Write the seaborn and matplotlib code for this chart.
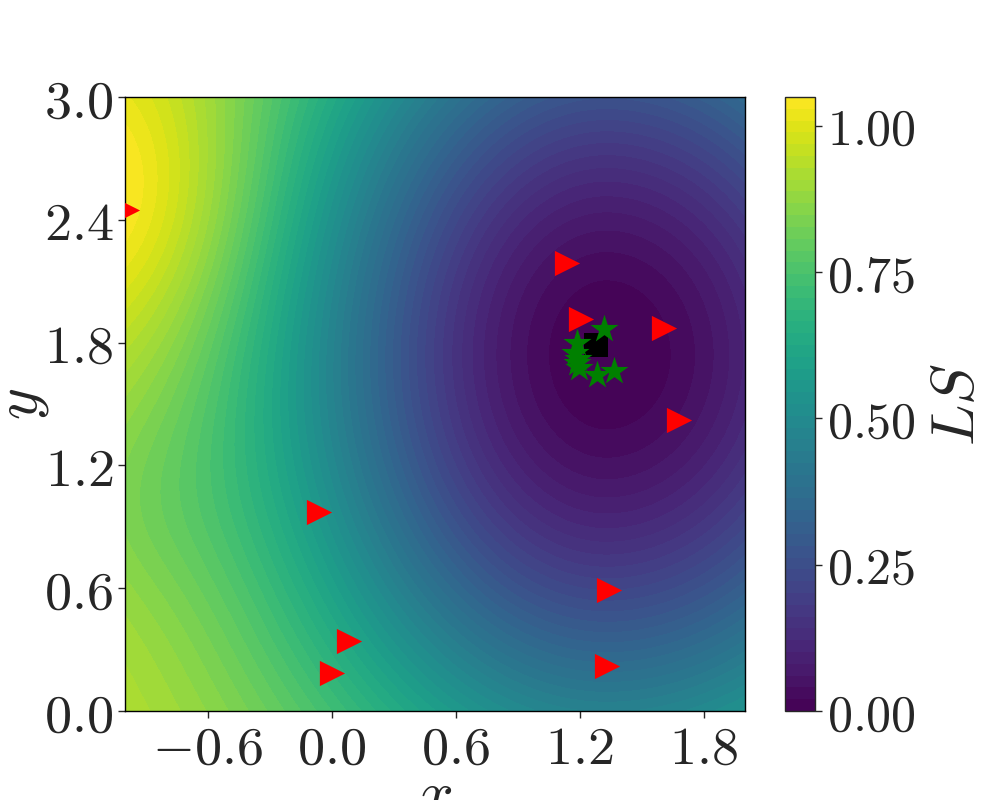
import numpy as np
import matplotlib
matplotlib.use("Agg")
import matplotlib.pyplot as plt
from matplotlib.ticker import FuncFormatter
import seaborn as sns
import pandas as pd

# ---- data ----
# surface model parameters (loss surface LS)
min_center = [1.33, 1.74]
well_scale_left = 1.15
well_scale_right = 1.28
well_scale_y = 1.50
well_shape = 1.1
well_depth = 0.97
peak_center = [-1.0, 2.5]
peak_width = [0.5, 0.55]
peak_height = 0.17
dip_center = [-1.0, 1.0]
dip_width = [0.35, 0.35]
dip_height = -0.04

# red triangle samples
tri_x = [-0.99, 1.14, 1.205, 1.61, 1.68, -0.06, 1.34, 0.083, 0.0, 1.33]
tri_y = [2.45, 2.19, 1.915, 1.87, 1.42, 0.97, 0.59, 0.34, 0.185, 0.22]
# green star samples
star_x = [1.317, 1.366, 1.283, 1.185, 1.178, 1.185, 1.195, 1.19]
star_y = [1.866, 1.66, 1.64, 1.80, 1.75, 1.70, 1.675, 1.72]
# black square (best point)
best_x = [1.28]
best_y = [1.79]

x_ticks = [-0.6, 0.0, 0.6, 1.2, 1.8]
y_ticks = [0.0, 0.6, 1.2, 1.8, 2.4, 3.0]
cb_ticks = [0.0, 0.25, 0.5, 0.75, 1.0]

# ---- style ----
sns.set_style("ticks")
plt.rcParams["font.family"] = ["DejaVu Serif"]
plt.rcParams["mathtext.fontset"] = "cm"

FS = 39
FS_CB = 36
FS_LAB = 44

gx = np.linspace(-1.0, 2.0, 300)
gy = np.linspace(0.0, 3.0, 300)
X, Y = np.meshgrid(gx, gy)
dx = X - min_center[0]
dy = Y - min_center[1]
sx = np.where(dx < 0, well_scale_left, well_scale_right)
q = (dx / sx) ** 2 + (dy / well_scale_y) ** 2
Z = well_depth * (1 - np.exp(-(q / 2) ** well_shape))
Z += peak_height * np.exp(-((X - peak_center[0]) ** 2 / (2 * peak_width[0] ** 2)
                            + (Y - peak_center[1]) ** 2 / (2 * peak_width[1] ** 2)))
Z += dip_height * np.exp(-((X - dip_center[0]) ** 2 / (2 * dip_width[0] ** 2)
                           + (Y - dip_center[1]) ** 2 / (2 * dip_width[1] ** 2)))

fig = plt.figure(figsize=(10, 8), dpi=100)
ax = fig.add_axes([0.125, 89 / 800, 0.62, 614 / 800])
cax = fig.add_axes([0.785, 89 / 800, 0.03, 614 / 800])

levels = np.linspace(0, Z.max(), 53)
cf = ax.contourf(X, Y, Z, levels=levels, cmap="viridis")

tri_df = pd.DataFrame({"x": tri_x, "y": tri_y})
star_df = pd.DataFrame({"x": star_x, "y": star_y})
best_df = pd.DataFrame({"x": best_x, "y": best_y})

sns.scatterplot(data=best_df, x="x", y="y", marker="s", color="black", s=300,
                linewidth=0, ax=ax, zorder=3)
sns.scatterplot(data=tri_df, x="x", y="y", marker=">", color="red", s=330,
                linewidth=0, ax=ax, zorder=4)
sns.scatterplot(data=star_df, x="x", y="y", marker="*", color="green", s=450,
                linewidth=0, ax=ax, zorder=5)

ax.set_xlim(-1.0, 2.0)
ax.set_ylim(0.0, 3.0)
ax.set_xticks(x_ticks)
ax.set_yticks(y_ticks)
fmt1 = FuncFormatter(lambda v, p: "$%.1f$" % v)
ax.xaxis.set_major_formatter(fmt1)
ax.yaxis.set_major_formatter(fmt1)
ax.tick_params(labelsize=FS, length=5, width=1, direction="out")
ax.set_xlabel("$x$", fontsize=FS_LAB)
ax.set_ylabel("$y$", fontsize=FS_LAB)
ax.xaxis.set_label_coords(0.5, -0.09)
ax.yaxis.set_label_coords(-0.12, 0.5)
for s in ax.spines.values():
    s.set_linewidth(1)
    s.set_color("black")

cb = fig.colorbar(cf, cax=cax, ticks=cb_ticks)
cb.ax.yaxis.set_major_formatter(FuncFormatter(lambda v, p: "$%.2f$" % v))
cb.ax.tick_params(labelsize=FS_CB, length=5, width=1)
cb.set_label("$LS$", fontsize=FS_LAB, labelpad=8)
cb.outline.set_linewidth(1)

fig.savefig("out.png", dpi=100)
